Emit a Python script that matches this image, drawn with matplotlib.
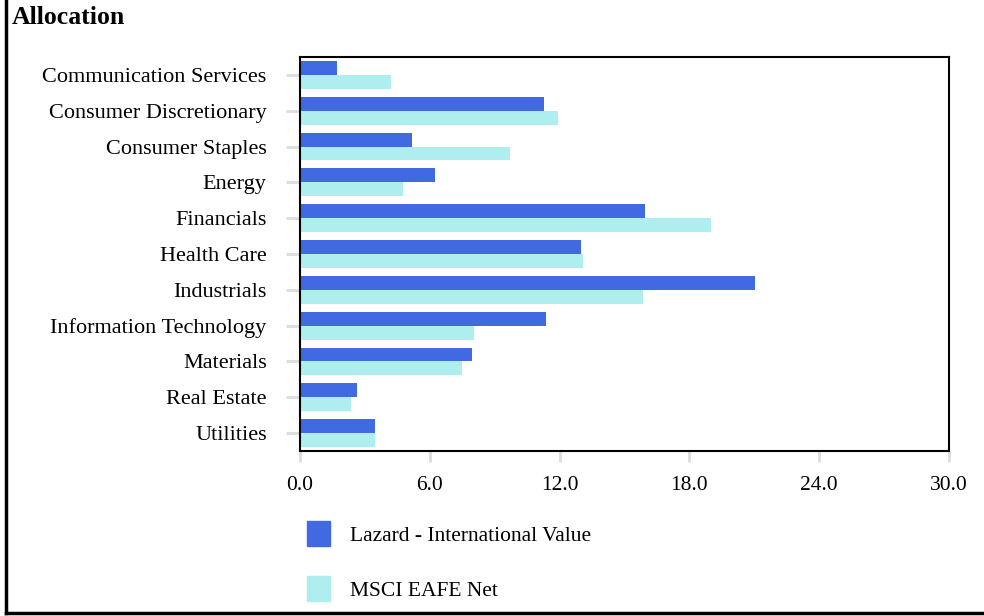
import matplotlib
matplotlib.use("Agg")
import matplotlib.pyplot as plt
import numpy as np
from matplotlib.patches import Rectangle
from matplotlib.lines import Line2D

categories = ["Communication Services", "Consumer Discretionary", "Consumer Staples",
              "Energy", "Financials", "Health Care", "Industrials",
              "Information Technology", "Materials", "Real Estate", "Utilities"]
lazard = [1.69, 11.29, 5.20, 6.22, 15.95, 13.00, 21.03, 11.38, 7.97, 2.62, 3.45]
msci = [4.19, 11.94, 9.72, 4.74, 19.00, 13.09, 15.86, 8.06, 7.51, 2.34, 3.45]
series_names = ["Lazard - International Value", "MSCI EAFE Net"]
xticks = [0, 6, 12, 18, 24, 30]

c1 = "#4169E1"
c2 = "#AFEEEE"

plt.rcParams['font.family'] = ['Liberation Serif', 'DejaVu Serif']

fig = plt.figure(figsize=(9.84, 6.16), dpi=100)
ax = fig.add_axes([300/984, 1-451/616, 649/984, 394/616])

y = np.arange(len(categories))
h = 0.389
ax.barh(y - h/2, lazard, height=h, color=c1, label=series_names[0])
ax.barh(y + h/2, msci, height=h, color=c2, label=series_names[1])
ax.set_ylim(len(categories) - 0.5, -0.5)
ax.set_xlim(0, 30)
ax.set_yticks(y)
ax.set_yticklabels(categories, fontsize=16)
ax.set_xticks(xticks)
ax.set_xticklabels([f"{v:.1f}" for v in xticks], fontsize=15.5)
for s in ax.spines.values():
    s.set_linewidth(1.5)
    s.set_color("black")
ax.tick_params(axis='y', length=10, width=2, color="#dddddd", pad=14)
ax.tick_params(axis='x', length=8, width=2, color="#dddddd", pad=10)

fig.text(12/984, 1-18/616, "Allocation", fontsize=18.5, fontweight='bold', va='center', ha='left')

# legend
handles = [Rectangle((0, 0), 1, 1, color=c1), Rectangle((0, 0), 1, 1, color=c2)]
leg = fig.legend(handles, series_names, loc='upper left', bbox_to_anchor=(288/984, 1-502/616),
                 frameon=False, fontsize=15.5, handlelength=1.05, handleheight=1.4,
                 labelspacing=1.4, handletextpad=0.95, borderpad=0.4)

# figure border (left and bottom)
fig.add_artist(Line2D([6/984, 6/984], [1-613/616, 1.0], transform=fig.transFigure, color='black', lw=2.5))
fig.add_artist(Line2D([6/984, 1.0], [1-613/616, 1-613/616], transform=fig.transFigure, color='black', lw=2.5))

fig.savefig("out.png", dpi=100)
